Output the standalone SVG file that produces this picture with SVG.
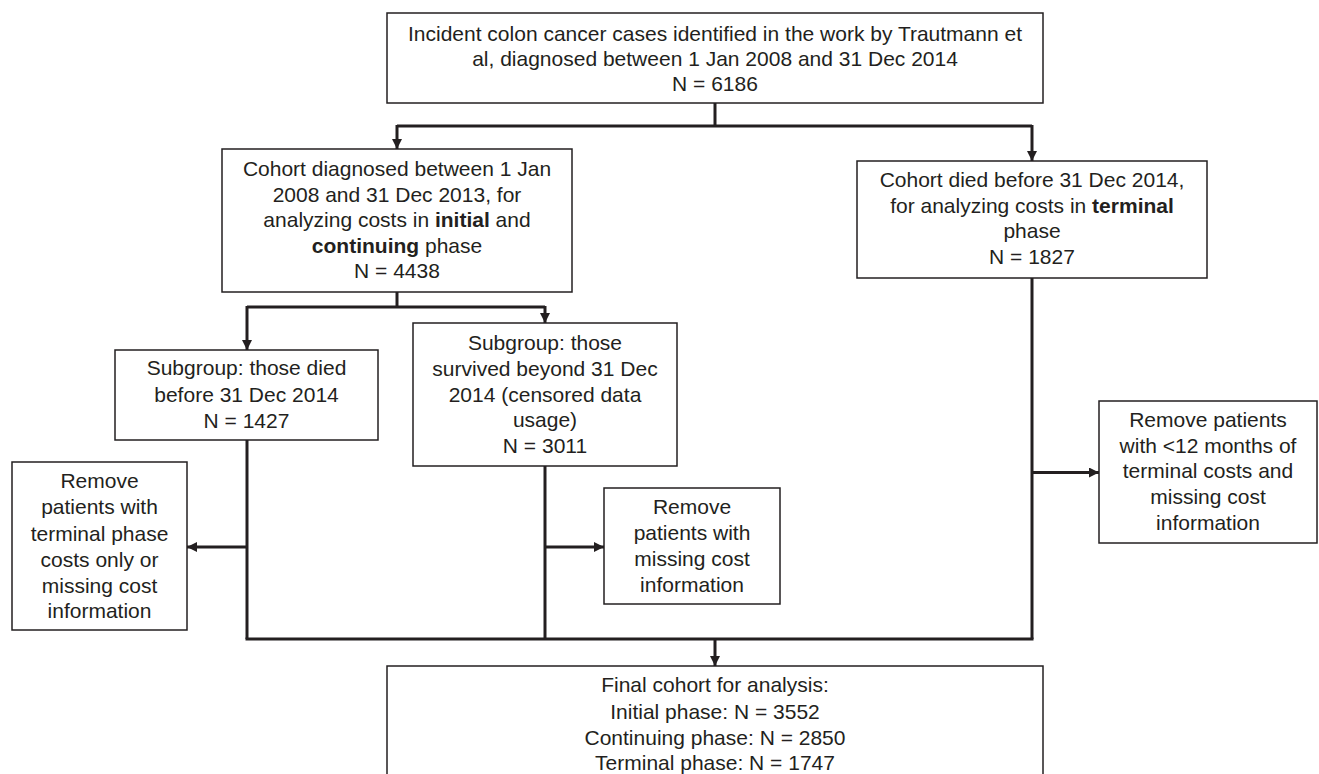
<svg xmlns="http://www.w3.org/2000/svg" width="1319" height="774" viewBox="0 0 1319 774">
<style>
.box{fill:#fff;stroke:#231f20;stroke-width:1.5}
.t{font-family:"Liberation Sans",Arial,sans-serif;font-size:21px;fill:#231f20;text-anchor:middle}
.b{font-weight:bold}
.c{fill:none;stroke:#231f20;stroke-width:3}
</style>
<defs>
<marker id="ah" markerUnits="userSpaceOnUse" markerWidth="10" markerHeight="10" viewBox="0 0 10 10" refX="10" refY="5" orient="auto">
<path d="M0,0 L10,5 L0,10 z" fill="#231f20"/>
</marker>
</defs>
<rect width="1319" height="774" fill="#fff"/>
<g id="connectors">
<path class="c" d="M715,103 V126"/>
<path class="c" d="M397,126 H1032"/>
<path class="c" d="M397,125 V149" marker-end="url(#ah)"/>
<path class="c" d="M1032,125 V161" marker-end="url(#ah)"/>
<path class="c" d="M397,292 V307"/>
<path class="c" d="M247,307 H545"/>
<path class="c" d="M247,306 V350" marker-end="url(#ah)"/>
<path class="c" d="M545,306 V323" marker-end="url(#ah)"/>
<path class="c" d="M247,440 V639"/>
<path class="c" d="M545,466 V639"/>
<path class="c" d="M1032,278 V639"/>
<path class="c" d="M245.5,639 H1033.5"/>
<path class="c" d="M247,547 H187" marker-end="url(#ah)"/>
<path class="c" d="M545,547 H604" marker-end="url(#ah)"/>
<path class="c" d="M1032,472.5 H1099" marker-end="url(#ah)"/>
<path class="c" d="M715,638 V666" marker-end="url(#ah)"/>
</g>
<g id="n-top">
<rect class="box" x="387" y="13" width="656" height="90"/>
<text class="t" x="715" y="40.5">Incident colon cancer cases identified in the work by Trautmann et</text>
<text class="t" x="715" y="66">al, diagnosed between 1 Jan 2008 and 31 Dec 2014</text>
<text class="t" x="715" y="91">N = 6186</text>
</g>
<g id="n-initial">
<rect class="box" x="222" y="149" width="350" height="143"/>
<text class="t" x="397" y="176">Cohort diagnosed between 1 Jan</text>
<text class="t" x="397" y="202">2008 and 31 Dec 2013, for</text>
<text class="t" x="397" y="227">analyzing costs in <tspan class="b">initial</tspan> and</text>
<text class="t" x="397" y="253"><tspan class="b">continuing</tspan> phase</text>
<text class="t" x="397" y="278">N = 4438</text>
</g>
<g id="n-terminal">
<rect class="box" x="857" y="161" width="350" height="117"/>
<text class="t" x="1032" y="187">Cohort died before 31 Dec 2014,</text>
<text class="t" x="1032" y="213">for analyzing costs in <tspan class="b">terminal</tspan></text>
<text class="t" x="1032" y="238">phase</text>
<text class="t" x="1032" y="264">N = 1827</text>
</g>
<g id="n-died">
<rect class="box" x="115" y="350" width="263" height="90"/>
<text class="t" x="246.5" y="375">Subgroup: those died</text>
<text class="t" x="246.5" y="401.5">before 31 Dec 2014</text>
<text class="t" x="246.5" y="428">N = 1427</text>
</g>
<g id="n-survived">
<rect class="box" x="413" y="323" width="264" height="143"/>
<text class="t" x="545" y="350">Subgroup: those</text>
<text class="t" x="545" y="375.5">survived beyond 31 Dec</text>
<text class="t" x="545" y="402">2014 (censored data</text>
<text class="t" x="545" y="427">usage)</text>
<text class="t" x="545" y="453">N = 3011</text>
</g>
<g id="n-remove1">
<rect class="box" x="12" y="462" width="175" height="168"/>
<text class="t" x="99.5" y="487.5">Remove</text>
<text class="t" x="99.5" y="514">patients with</text>
<text class="t" x="99.5" y="540.5">terminal phase</text>
<text class="t" x="99.5" y="566.5">costs only or</text>
<text class="t" x="99.5" y="592.5">missing cost</text>
<text class="t" x="99.5" y="617.5">information</text>
</g>
<g id="n-remove2">
<rect class="box" x="604" y="488" width="176" height="116"/>
<text class="t" x="692" y="514">Remove</text>
<text class="t" x="692" y="540">patients with</text>
<text class="t" x="692" y="566">missing cost</text>
<text class="t" x="692" y="591.5">information</text>
</g>
<g id="n-remove3">
<rect class="box" x="1099" y="401" width="218" height="142"/>
<text class="t" x="1208" y="426.5">Remove patients</text>
<text class="t" x="1208" y="452.5">with &lt;12 months of</text>
<text class="t" x="1208" y="478">terminal costs and</text>
<text class="t" x="1208" y="504">missing cost</text>
<text class="t" x="1208" y="529.5">information</text>
</g>
<g id="n-final">
<rect class="box" x="387" y="666" width="656" height="130"/>
<text class="t" x="715" y="692">Final cohort for analysis:</text>
<text class="t" x="715" y="719">Initial phase: N = 3552</text>
<text class="t" x="715" y="745">Continuing phase: N = 2850</text>
<text class="t" x="715" y="770">Terminal phase: N = 1747</text>
</g>
</svg>
